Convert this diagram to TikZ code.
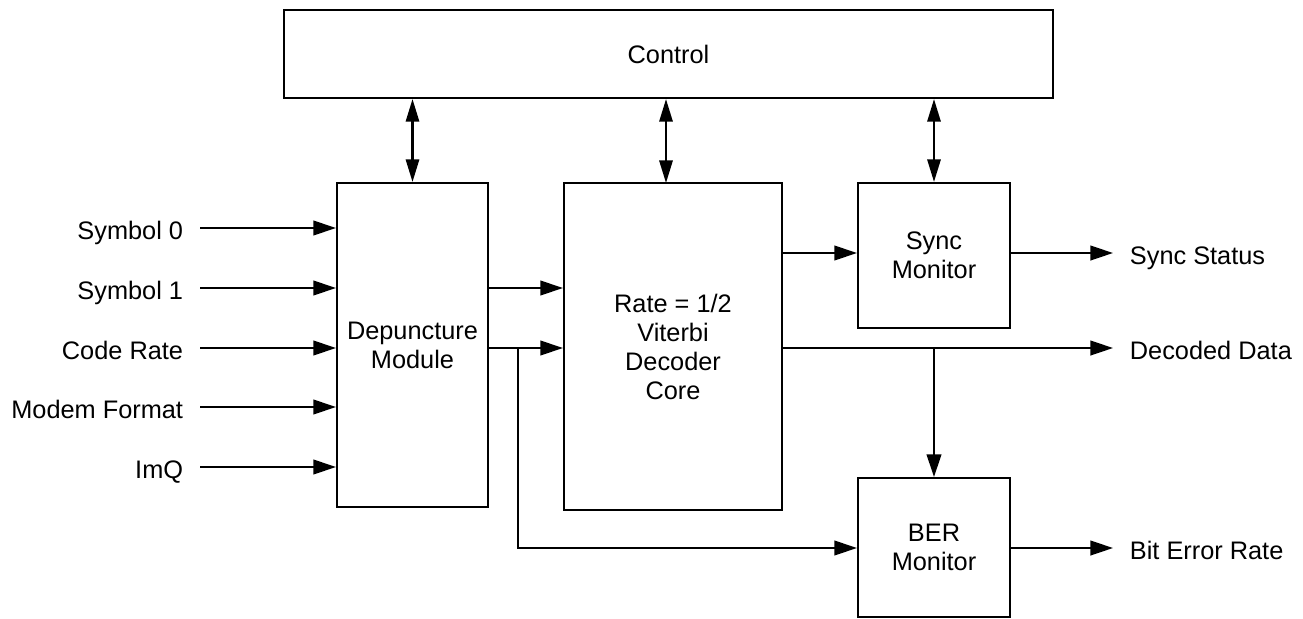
\documentclass[tikz,border=0pt]{standalone}
\usepackage{fontspec}
\setmainfont{Liberation Sans}
\usetikzlibrary{arrows.meta}
\begin{document}
\begin{tikzpicture}[x=0.75pt,y=-0.75pt,
  box/.style={draw,line width=1.6pt,align=center,inner sep=0pt,font=\fontsize{19}{21.75}\selectfont},
  lbl/.style={inner xsep=12.5pt,inner ysep=0pt,text height=16.5pt,text depth=0pt,font=\fontsize{19}{21.75}\selectfont},
  conn/.style={line width=1.6pt,-{Triangle[length=17pt,width=11pt]}},
  dconn/.style={line width=1.6pt,{Triangle[length=17pt,width=10pt]}-{Triangle[length=17pt,width=10pt]}}]
\useasboundingbox (0,0) rectangle (1303,618);
% boxes
\node[box,minimum width={769*0.75pt},minimum height={88*0.75pt}] (ctrl) at (668.5,54) {Control};
\node[box,minimum width={151*0.75pt},minimum height={324*0.75pt}] (dep) at (412.5,345) {Depuncture\\Module};
\node[box,minimum width={218*0.75pt},minimum height={327*0.75pt}] (vit) at (673,346.5) {Rate = 1/2\\Viterbi\\Decoder\\Core};
\node[box,minimum width={152*0.75pt},minimum height={145*0.75pt}] (sync) at (934,255.5) {Sync\\Monitor};
\node[box,minimum width={152*0.75pt},minimum height={139*0.75pt}] (bern) at (934,547.5) {BER\\Monitor};
% input labels
\node[lbl,anchor=east] (s0) at (200,228) {Symbol 0};
\node[lbl,anchor=east] (s1) at (200,288) {Symbol 1};
\node[lbl,anchor=east] (cr) at (200,348) {Code Rate};
\node[lbl,anchor=east] (mf) at (200,407) {Modem Format};
\node[lbl,anchor=east] (imq) at (200,467) {ImQ};
% output labels
\node[lbl,anchor=west] (ss) at (1113,253) {Sync Status};
\node[lbl,anchor=west] (dd) at (1113,348) {Decoded Data};
\node[lbl,anchor=west] (berl) at (1113,548) {Bit Error Rate};
% inputs
\draw[conn] (s0.east) -- (s0.east -| dep.west);
\draw[conn] (s1.east) -- (s1.east -| dep.west);
\draw[conn] (cr.east) -- (cr.east -| dep.west);
\draw[conn] (mf.east) -- (mf.east -| dep.west);
\draw[conn] (imq.east) -- (imq.east -| dep.west);
% depuncture to viterbi
\draw[conn] (dep.east |- s1.east) -- (vit.west |- s1.east);
\draw[conn] (dep.east |- cr.east) -- (vit.west |- cr.east);
\coordinate (br) at (518,348);
\draw[conn] (br) |- (bern.west |- berl.west);
% viterbi outputs
\draw[conn] (vit.east |- ss.west) -- (sync.west |- ss.west);
\draw[conn] (sync.east |- ss.west) -- (ss.west);
\draw[conn] (vit.east |- dd.west) -- (dd.west);
\draw[conn] (bern.north |- dd.west) -- (bern.north);
\draw[conn] (bern.east |- berl.west) -- (berl.west);
% control
\coordinate (va) at (666,183);
\draw[dconn] (ctrl.south -| dep.north) -- (dep.north);
\draw[dconn] (ctrl.south -| va) -- (va);
\draw[dconn] (ctrl.south -| sync.north) -- (sync.north);
\end{tikzpicture}
\end{document}
